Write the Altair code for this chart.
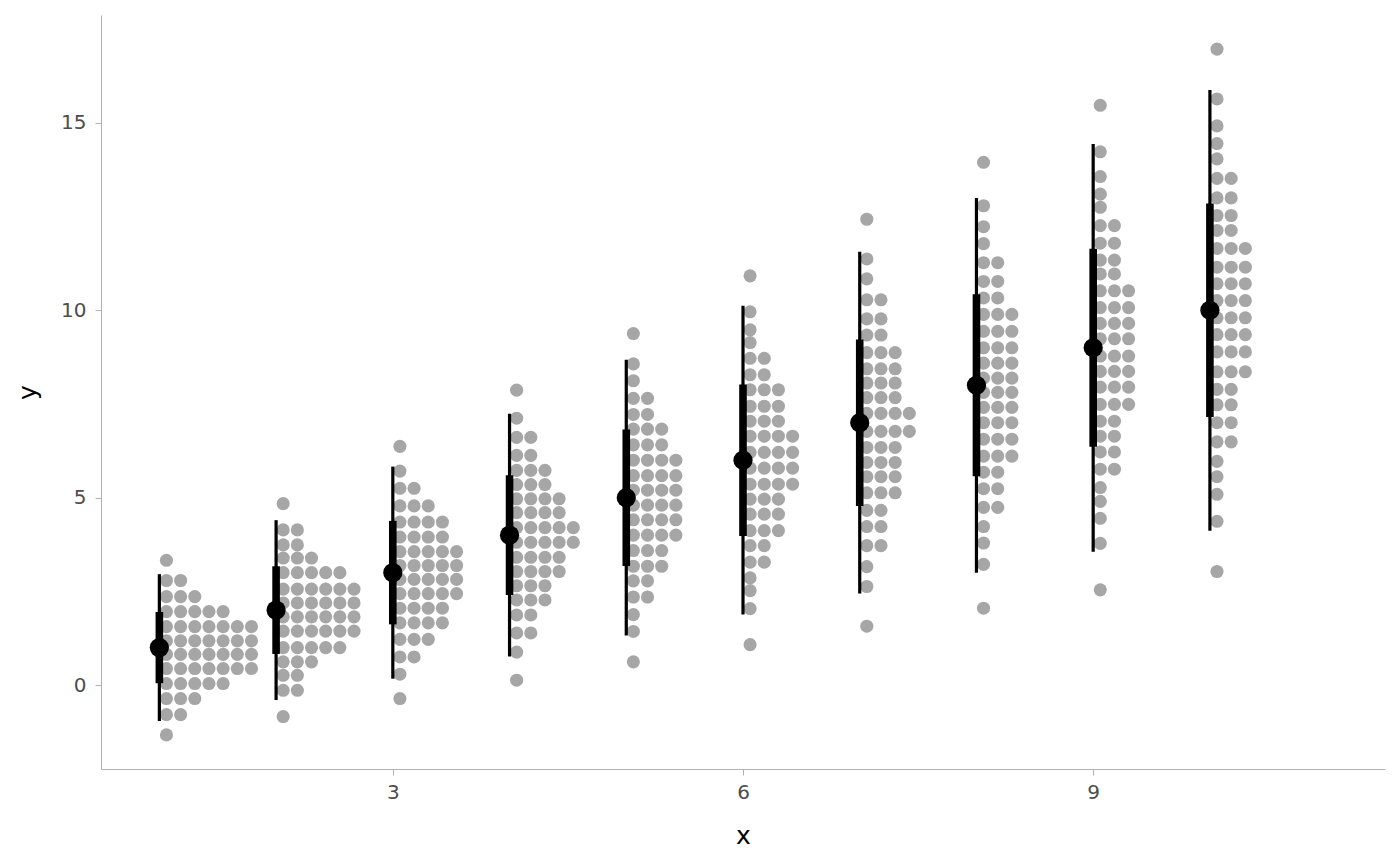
import altair as alt
import pandas as pd

# ---- data ----
groups = [1, 2, 3, 4, 5, 6, 7, 8, 9, 10]
point_y = [1, 2, 3, 4, 5, 6, 7, 8, 9, 10]
lo66 = [0.05, 0.83, 1.62, 2.40, 3.18, 3.98, 4.78, 5.57, 6.36, 7.15]
hi66 = [1.95, 3.17, 4.38, 5.60, 6.82, 8.02, 9.22, 10.43, 11.64, 12.85]
lo95 = [-0.96, -0.40, 0.17, 0.76, 1.32, 1.88, 2.44, 3.00, 3.56, 4.12]
hi95 = [2.96, 4.40, 5.83, 7.24, 8.68, 10.12, 11.56, 13.00, 14.44, 15.88]

# dot rows (bin centre y) and number of dots in each row, top to bottom
g1_y = [3.33, 2.79, 2.36, 1.96, 1.56, 1.18, 0.82, 0.44, 0.04, -0.36, -0.79, -1.33]
g1_n = [1, 2, 3, 5, 7, 7, 7, 7, 5, 3, 2, 1]
g2_y = [4.84, 4.14, 3.74, 3.39, 3.00, 2.56, 2.19, 1.82, 1.44, 1.00, 0.62, 0.26, -0.14, -0.84]
g2_n = [1, 2, 2, 3, 5, 6, 6, 6, 6, 5, 3, 2, 2, 1]
g3_y = [6.37, 5.71, 5.25, 4.78, 4.35, 3.95, 3.56, 3.19, 2.82, 2.44, 2.05, 1.66, 1.22, 0.75, 0.29, -0.36]
g3_n = [1, 1, 2, 3, 4, 4, 5, 5, 5, 5, 4, 4, 3, 2, 1, 1]
g4_y = [7.87, 7.12, 6.61, 6.13, 5.73, 5.35, 4.97, 4.60, 4.20, 3.81, 3.41, 3.03, 2.65, 2.27, 1.87, 1.39, 0.88, 0.13]
g4_n = [1, 1, 2, 2, 3, 3, 4, 4, 5, 5, 4, 4, 3, 3, 2, 2, 1, 1]
g5_y = [9.38, 8.57, 8.12, 7.65, 7.22, 6.83, 6.41, 6.00, 5.59, 5.20, 4.80, 4.41, 4.00, 3.59, 3.17, 2.78, 2.35, 1.88, 1.43, 0.62]
g5_n = [1, 1, 1, 2, 2, 3, 3, 4, 4, 4, 4, 4, 4, 3, 3, 2, 2, 1, 1, 1]
g6_y = [10.92, 9.96, 9.48, 9.14, 8.72, 8.28, 7.88, 7.44, 7.04, 6.64, 6.21, 5.79, 5.36, 4.96, 4.56, 4.12, 3.72, 3.28, 2.86, 2.52, 2.04, 1.08]
g6_n = [1, 1, 1, 1, 2, 2, 3, 3, 3, 4, 4, 4, 4, 3, 3, 3, 2, 2, 1, 1, 1, 1]
g7_y = [12.43, 11.37, 10.84, 10.28, 9.77, 9.34, 8.87, 8.44, 8.06, 7.67, 7.25, 6.77, 6.34, 5.94, 5.56, 5.13, 4.66, 4.23, 3.72, 3.16, 2.63, 1.57]
g7_n = [1, 1, 1, 2, 2, 2, 3, 3, 3, 3, 4, 4, 3, 3, 3, 3, 2, 2, 2, 1, 1, 1]
g8_y = [13.95, 12.79, 12.23, 11.78, 11.27, 10.77, 10.33, 9.89, 9.44, 9.00, 8.59, 8.19, 7.81, 7.41, 7.00, 6.56, 6.11, 5.68, 5.24, 4.74, 4.23, 3.79, 3.22, 2.05]
g8_n = [1, 1, 1, 1, 2, 2, 2, 3, 3, 3, 3, 3, 3, 3, 3, 3, 3, 2, 2, 2, 1, 1, 1, 1]
g9_y = [15.47, 14.23, 13.57, 13.10, 12.75, 12.26, 11.79, 11.34, 10.97, 10.52, 10.07, 9.65, 9.24, 8.78, 8.37, 7.95, 7.49, 7.04, 6.64, 6.22, 5.76, 5.27, 4.90, 4.45, 3.78, 2.54]
g9_n = [1, 1, 1, 1, 1, 2, 2, 2, 2, 3, 3, 3, 3, 3, 3, 3, 3, 2, 2, 2, 2, 1, 1, 1, 1, 1]
g10_y = [16.97, 15.64, 14.92, 14.45, 14.04, 13.52, 13.00, 12.53, 12.13, 11.65, 11.15, 10.71, 10.26, 9.80, 9.35, 8.89, 8.36, 7.89, 7.48, 7.00, 6.49, 5.97, 5.56, 5.09, 4.37, 3.03]
g10_n = [1, 1, 1, 1, 1, 2, 2, 2, 2, 3, 3, 3, 3, 3, 3, 3, 3, 2, 2, 2, 2, 1, 1, 1, 1, 1]

rows_y = [g1_y, g2_y, g3_y, g4_y, g5_y, g6_y, g7_y, g8_y, g9_y, g10_y]
rows_n = [g1_n, g2_n, g3_n, g4_n, g5_n, g6_n, g7_n, g8_n, g9_n, g10_n]

# ---- tables built from the arrays ----
dot_records = []
for g, ys, ns in zip(groups, rows_y, rows_n):
    for yv, n in zip(ys, ns):
        for k in range(n):
            dot_records.append({"group": g, "y": yv, "col": k})
dots = pd.DataFrame(dot_records)

intervals = pd.DataFrame({
    "x": groups, "y": point_y,
    "lo66": lo66, "hi66": hi66, "lo95": lo95, "hi95": hi95,
})

DOT_STEP = 0.1214  # width of one dot column in x units

x_scale = alt.Scale(domain=[0.5, 11.5], nice=False, zero=False)
y_scale = alt.Scale(domain=[-2.24, 17.88], nice=False, zero=False)

x_axis = alt.Axis(values=[3, 6, 9], title="x")
y_axis = alt.Axis(values=[0, 5, 10, 15], title="y")

dot_layer = alt.Chart(dots).transform_calculate(
    xd=f"datum.group + (datum.col + 0.5) * {DOT_STEP}"
).mark_circle(size=172, color="#A6A6A6", opacity=1).encode(
    x=alt.X("xd:Q", scale=x_scale, axis=x_axis),
    y=alt.Y("y:Q", scale=y_scale, axis=y_axis),
)

thin = alt.Chart(intervals).mark_rule(color="black", strokeWidth=3.2, strokeCap="butt").encode(
    x=alt.X("x:Q", scale=x_scale, axis=x_axis),
    y=alt.Y("lo95:Q", scale=y_scale, axis=y_axis),
    y2="hi95:Q",
)
thick = alt.Chart(intervals).mark_rule(color="black", strokeWidth=7.6, strokeCap="butt").encode(
    x=alt.X("x:Q", scale=x_scale, axis=x_axis),
    y=alt.Y("lo66:Q", scale=y_scale, axis=y_axis),
    y2="hi66:Q",
)
point = alt.Chart(intervals).mark_circle(size=370, color="black", opacity=1).encode(
    x=alt.X("x:Q", scale=x_scale, axis=x_axis),
    y=alt.Y("y:Q", scale=y_scale, axis=y_axis),
)

chart = alt.layer(dot_layer, thin, thick, point).properties(
    width=1284,
    height=754,
    autosize=alt.AutoSizeParams(type="none"),
    padding={"left": 93, "top": 7, "right": 7, "bottom": 90},
    background="white",
).configure_view(
    stroke=None
).configure_axis(
    grid=False,
    domainColor="#B3B3B3",
    domainWidth=1.1,
    tickColor="#B3B3B3",
    tickWidth=1.1,
    tickSize=6,
    labelFont="DejaVu Sans",
    labelFontSize=20,
    labelColor="#4D4D4D",
    titleFont="DejaVu Sans",
    titleFontSize=25,
    titleFontWeight="normal",
    titleColor="black",
).configure_axisX(
    labelPadding=7,
    titlePadding=21,
).configure_axisY(
    labelPadding=9,
    titlePadding=20,
)

chart.save("out.html", embed_options={"renderer": "svg", "actions": False})
